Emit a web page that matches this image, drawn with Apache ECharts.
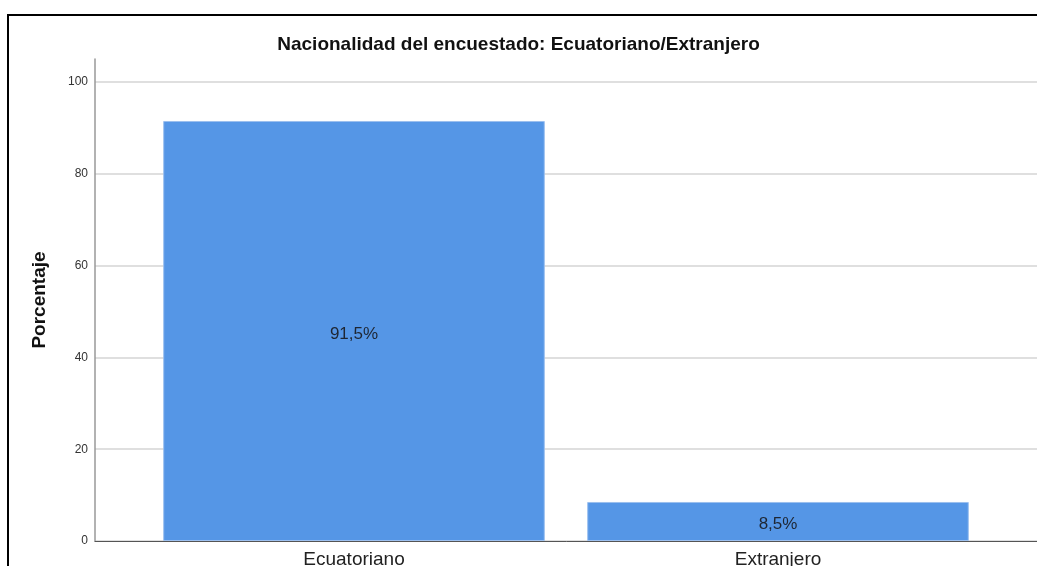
<!DOCTYPE html>
<html>
<head>
<meta charset="utf-8">
<script src="https://cdn.jsdelivr.net/npm/echarts@6/dist/echarts.min.js"></script>
<style>
  html, body { margin: 0; padding: 0; background: #fff; overflow: hidden; }
  #main { width: 1037px; height: 566px; }
  /* marco negro del visor, cortado a la derecha y abajo */
  .marco { position: absolute; left: 7px; top: 14px; width: 1100px; height: 620px;
           border: 2px solid #000; pointer-events: none; }
</style>
</head>
<body>
<div id="main"></div>
<div class="marco"></div>
<script>
// datos
const categorias = ["Ecuatoriano", "Extranjero"];
const porcentajes = [91.5, 8.5];
const yMin = 0, yMax = 105, yPaso = 20;

(function () {
  const fuente = "'Liberation Sans', Arial, sans-serif";
  let mychart = echarts.init(document.getElementById("main"));
  let option = {
    animation: false,
    title: {
      text: "Nacionalidad del encuestado: Ecuatoriano/Extranjero",
      left: "center",
      top: 30,
      textStyle: { fontFamily: fuente, fontSize: 19, fontWeight: "bold", color: "#111" },
    },
    grid: [
      // marco de ejes y lineas de cuadricula
      { left: 95, right: -20, top: 59, bottom: 25, outerBoundsMode: "none" },
      // zona de barras
      { left: 142, right: 47, top: 59, bottom: 25, outerBoundsMode: "none" },
    ],
    xAxis: [
      {
        gridIndex: 0,
        type: "value",
        min: 0,
        max: 1,
        axisLine: { show: true, lineStyle: { color: "#555", width: 1 } },
        axisTick: { show: false },
        axisLabel: { show: false },
        splitLine: { show: false },
      },
      {
        gridIndex: 1,
        type: "category",
        data: categorias,
        axisLine: { show: false },
        axisTick: { show: false },
        axisLabel: { color: "#222", fontSize: 19, fontFamily: fuente, margin: 9 },
      },
    ],
    yAxis: [
      {
        gridIndex: 0,
        type: "value",
        min: yMin,
        max: yMax,
        interval: yPaso,
        name: "Porcentaje",
        nameLocation: "middle",
        nameRotate: 90,
        nameGap: 46,
        nameTextStyle: { fontFamily: fuente, fontSize: 19, fontWeight: "bold", color: "#111" },
        axisLine: { show: true, lineStyle: { color: "#999", width: 1.5 } },
        axisTick: { show: false },
        axisLabel: { color: "#333", fontSize: 12, fontFamily: fuente, margin: 7, showMaxLabel: false },
        splitLine: { show: true, showMaxLine: false, lineStyle: { color: "#d4d4d4", width: 1.5 } },
      },
      {
        gridIndex: 1,
        type: "value",
        min: yMin,
        max: yMax,
        show: false,
        splitLine: { show: false },
      },
    ],
    series: [
      {
        type: "bar",
        xAxisIndex: 1,
        yAxisIndex: 1,
        data: porcentajes,
        barWidth: "90%",
        itemStyle: { color: "#5596e6", borderColor: "#9cc0ef", borderWidth: 1 },
        label: {
          show: true,
          position: "inside",
          offset: [0, 3],
          color: "#1e2633",
          fontSize: 17,
          fontFamily: fuente,
          formatter: function (p) {
            return String(p.value).replace(".", ",") + "%";
          },
        },
      },
    ],
  };
  mychart.setOption(option);
})();
</script>
</body>
</html>
